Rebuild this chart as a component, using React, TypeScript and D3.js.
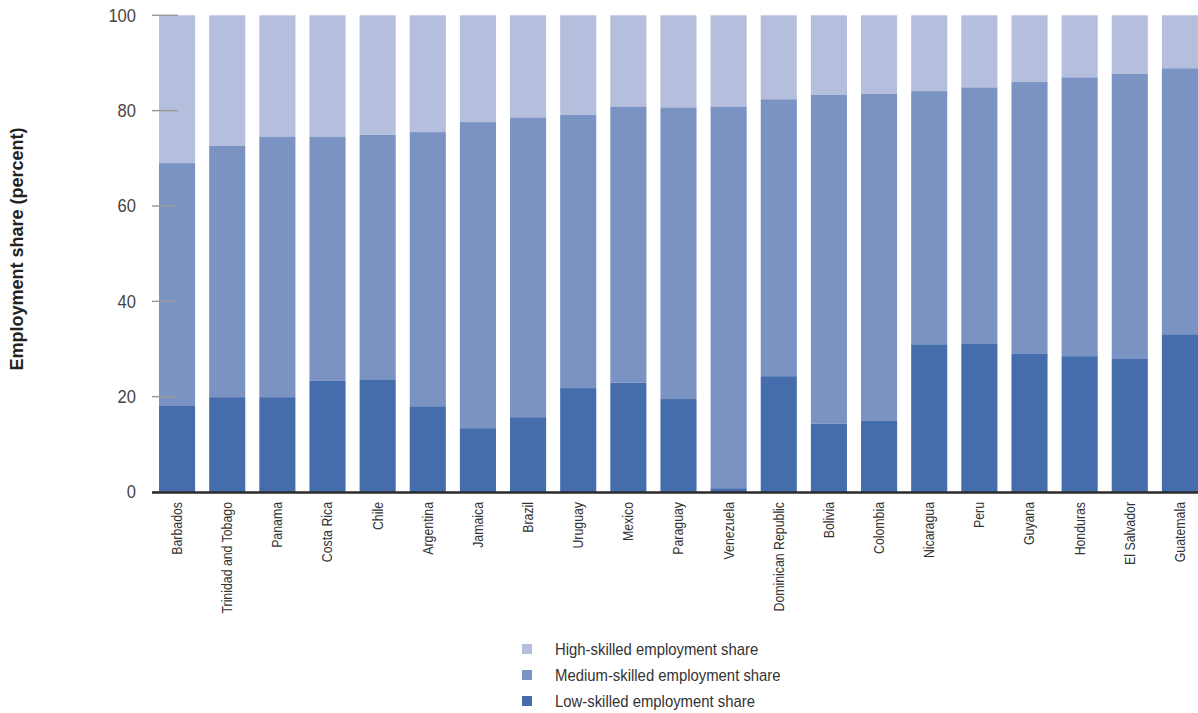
import React from "react";
import * as d3 from "d3";

const countries = [
  "Barbados", "Trinidad and Tobago", "Panama", "Costa Rica", "Chile", "Argentina",
  "Jamaica", "Brazil", "Uruguay", "Mexico", "Paraguay", "Venezuela",
  "Dominican Republic", "Bolivia", "Colombia", "Nicaragua", "Peru", "Guyana",
  "Honduras", "El Salvador", "Guatemala",
];
const lowSkilled = [18.2, 19.9, 19.9, 23.3, 23.5, 18.0, 13.4, 15.7, 21.8, 22.9, 19.5, 0.8, 24.3, 14.3, 14.9, 31.0, 31.2, 29.1, 28.5, 27.9, 33.1];
const mediumSkilled = [50.8, 52.8, 54.7, 51.3, 51.5, 57.5, 64.2, 62.9, 57.4, 58.0, 61.2, 80.1, 58.1, 69.1, 68.7, 53.1, 53.7, 56.9, 58.5, 59.9, 55.8];
const highSkilled = [31.0, 27.3, 25.4, 25.4, 25.0, 24.5, 22.4, 21.4, 20.8, 19.1, 19.3, 19.1, 17.6, 16.6, 16.4, 15.9, 15.1, 14.0, 13.0, 12.2, 11.1];
const yTicks = [0, 20, 40, 60, 80, 100];
const seriesKeys = ["low", "medium", "high"];
const legendLabels = ["High-skilled employment share", "Medium-skilled employment share", "Low-skilled employment share"];
const legendKeys = ["high", "medium", "low"];

const colors: Record<string, string> = { low: "#456dac", medium: "#7b93c3", high: "#b5bedd" };
const FONT = "'Liberation Sans', Arial, sans-serif";

export default function App() {
  const W = 1198, H = 713;
  const rows = countries.map((c, i) => ({ country: c, low: lowSkilled[i], medium: mediumSkilled[i], high: highSkilled[i] }));
  const stack = d3.stack<any>().keys(seriesKeys)(rows);
  const x = d3.scaleBand<string>().domain(countries).range([152, 1205]).paddingInner(0.28).paddingOuter(0.14);
  const y = d3.scaleLinear().domain([0, 100]).range([492, 15.3]);

  return (
    <svg width={W} height={H} style={{ position: "absolute", left: 0, top: 0, background: "#fff" }} fontFamily={FONT}>
      {stack.map((s) => (
        <g key={s.key} fill={colors[s.key]}>
          {s.map((d, i) => (
            <rect key={i} x={x(countries[i])} width={x.bandwidth()} y={y(d[1])} height={y(d[0]) - y(d[1])} />
          ))}
        </g>
      ))}
      {yTicks.map((t) => (
        <g key={t}>
          <line x1={152} x2={178} y1={y(t)} y2={y(t)} stroke="#9a9a9a" strokeWidth={1.5} />
          <text transform={`translate(136,${y(t)}) scale(0.92,1)`} dy="0.35em" textAnchor="end" fontSize={18} fill="#444">{t}</text>
        </g>
      ))}
      <line x1={152} x2={W} y1={y(0) + 0.5} y2={y(0) + 0.5} stroke="#2a2a2a" strokeWidth={2.5} />
      {countries.map((c) => (
        <text key={c} transform={`translate(${(x(c) as number) + x.bandwidth() / 2},502) rotate(-90) scale(0.88,1)`} dy="0.35em" textAnchor="end" fontSize={14} fill="#333">{c}</text>
      ))}
      <text transform={`translate(17,249) rotate(-90)`} dy="0.35em" textAnchor="middle" fontSize={18} fontWeight="bold" fill="#222">Employment share (percent)</text>
      {legendKeys.map((k, i) => (
        <g key={k} transform={`translate(522,${649 + i * 26})`}>
          <rect x={0} y={-5} width={10} height={10} fill={colors[k]} />
          <text transform="translate(33,0) scale(0.93,1)" dy="0.35em" fontSize={16} fill="#333">{legendLabels[i]}</text>
        </g>
      ))}
    </svg>
  );
}
